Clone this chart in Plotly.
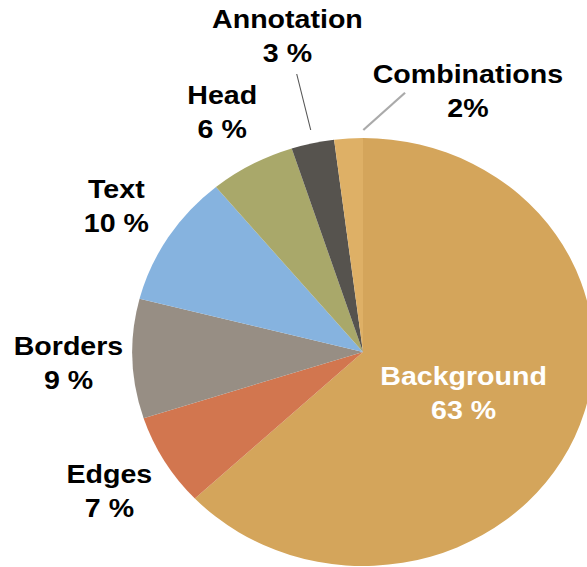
import plotly.graph_objects as go

# ---- data ----
labels = ["Background", "Edges", "Borders", "Text", "Head", "Annotation", "Combinations"]
values = [63, 7, 9, 10, 6, 3, 2]
pct_text = ["63 %", "7 %", "9 %", "10 %", "6 %", "3 %", "2%"]
colors = ["#D4A55B", "#D2764F", "#978E84", "#86B3DF", "#A9A86A", "#56534E", "#DEB066"]

W, H = 587, 567
SX = 1.078          # horizontal stretch of the reference
CX = 363            # stretch origin (pie centre x)

# label centres (unstretched pixel coords) and colours
label_pos = {
    "Background": (456.7, 393, "white"),
    "Edges": (128, 491, "black"),
    "Borders": (90.3, 362.5, "black"),
    "Text": (133.6, 205.5, "black"),
    "Head": (232.2, 112.4, "black"),
    "Annotation": (293.0, 36, "black"),
    "Combinations": (460.4, 91, "black"),
}

fig = go.Figure(go.Pie(
    labels=labels,
    values=values,
    sort=False,
    direction="clockwise",
    rotation=0,
    marker=dict(colors=colors, line=dict(width=0)),
    textinfo="none",
    hoverinfo="none",
    showlegend=False,
    domain=dict(x=[(CX - 214) / W, (CX + 214) / W], y=[1 / H, 429 / H]),
))

anns = []
for lab, txt in zip(labels, pct_text):
    x, y, col = label_pos[lab]
    anns.append(dict(
        x=x / W, y=1 - y / H, xref="paper", yref="paper",
        text=f"{lab}<br>{txt}", showarrow=False,
        xanchor="center", yanchor="middle", align="center",
        font=dict(family="Liberation Sans, Arial, sans-serif", size=26.5, color=col, weight="bold"),
    ))

shapes = [
    dict(type="line", xref="paper", yref="paper",
         x0=301.5 / W, y0=1 - 74 / H, x1=314.5 / W, y1=1 - 130 / H,
         line=dict(color="#555555", width=1)),
    dict(type="line", xref="paper", yref="paper",
         x0=402 / W, y0=1 - 92.7 / H, x1=363.3 / W, y1=1 - 130 / H,
         line=dict(color="#AAAAAA", width=2)),
]

fig.update_layout(
    width=W, height=H,
    margin=dict(l=0, r=0, t=0, b=0),
    paper_bgcolor="white", plot_bgcolor="white",
    annotations=anns, shapes=shapes,
)

post = """
document.documentElement.style.overflow='hidden';
document.body.style.margin='0';
document.body.style.overflow='hidden';
var gd = document.getElementById('{plot_id}');
var c = gd.querySelector('.svg-container');
c.style.transformOrigin = '%dpx 0px';
c.style.transform = 'scaleX(%s)';
""" % (CX, SX)

fig.write_html("out.html", post_script=post, config={"displayModeBar": False})
